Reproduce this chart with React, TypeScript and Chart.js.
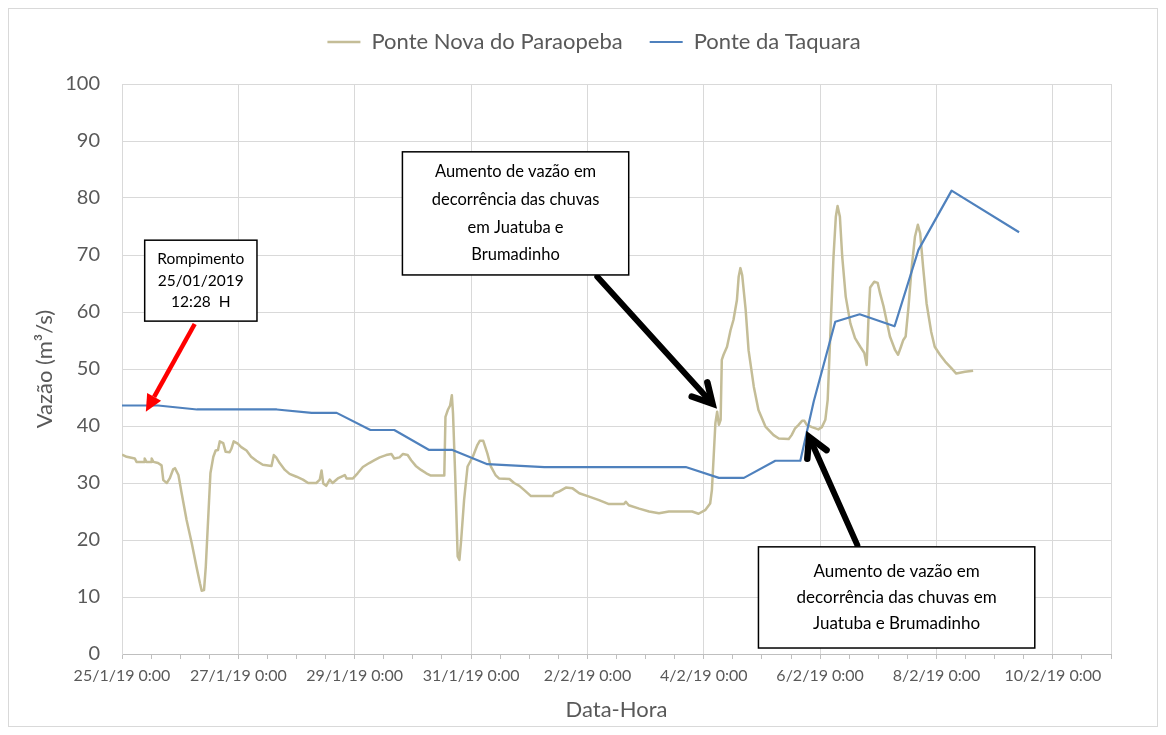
import { useEffect, useRef } from 'react';
import { Chart, registerables } from 'chart.js';

Chart.register(...registerables);

// ---- Data (x = days since 25/1/2019 0:00, y = vazão m³/s) ----
const seriesNames = ['Ponte Nova do Paraopeba', 'Ponte da Taquara'];
const seriesColors = ['#C4BD97', '#4F81BD'];

const pnpDays = [
  0.00, 0.08, 0.22, 0.25, 0.38, 0.39, 0.42, 0.50, 0.51, 0.54, 0.62, 0.68, 0.71, 0.77, 0.82, 0.88, 0.91, 0.97,
  1.02, 1.11, 1.20, 1.28, 1.34, 1.37, 1.41, 1.44, 1.48, 1.52, 1.57, 1.61, 1.65, 1.68, 1.74, 1.78, 1.85, 1.88,
  1.92, 1.99, 2.05, 2.14, 2.22, 2.31, 2.42, 2.57, 2.61, 2.65, 2.71, 2.80, 2.88, 3.00, 3.11, 3.20, 3.34, 3.40,
  3.43, 3.46, 3.51, 3.57, 3.62, 3.71, 3.83, 3.86, 3.97, 4.05, 4.14, 4.25, 4.34, 4.43, 4.54, 4.63, 4.68, 4.77,
  4.83, 4.91, 4.97, 5.05, 5.14, 5.23, 5.31, 5.54, 5.56, 5.60, 5.64, 5.67, 5.69, 5.73, 5.77, 5.80, 5.83, 5.88,
  5.94, 6.03, 6.11, 6.15, 6.21, 6.28, 6.34, 6.42, 6.48, 6.66, 6.74, 6.83, 6.91, 7.03, 7.40, 7.43, 7.51, 7.63,
  7.74, 7.86, 8.03, 8.20, 8.37, 8.63, 8.66, 8.71, 8.89, 9.06, 9.23, 9.40, 9.80, 9.91, 10.03, 10.11, 10.14,
  10.17, 10.20, 10.23, 10.26, 10.29, 10.31, 10.34, 10.40, 10.46, 10.51, 10.57, 10.60, 10.63, 10.66, 10.72,
  10.77, 10.86, 10.94, 11.06, 11.20, 11.29, 11.46, 11.51, 11.57, 11.63, 11.69, 11.73, 11.77, 11.86, 11.97,
  12.03, 12.09, 12.13, 12.16, 12.19, 12.23, 12.27, 12.30, 12.34, 12.38, 12.44, 12.52, 12.60, 12.69, 12.76,
  12.80, 12.83, 12.86, 12.93, 12.99, 13.03, 13.09, 13.14, 13.20, 13.29, 13.34, 13.39, 13.43, 13.47, 13.52,
  13.57, 13.63, 13.68, 13.72, 13.77, 13.83, 13.91, 13.97, 14.06, 14.15, 14.26, 14.34, 14.49, 14.63,
];
const pnpFlow = [
  35.0, 34.6, 34.3, 33.7, 33.7, 34.3, 33.7, 33.7, 34.3, 33.7, 33.5, 33.1, 30.5, 30.0, 30.8, 32.4, 32.6, 31.4,
  28.5, 23.5, 19.4, 15.3, 12.4, 11.1, 11.2, 15.3, 23.5, 31.7, 34.6, 35.7, 35.8, 37.3, 37.0, 35.5, 35.4, 36.0,
  37.3, 36.9, 36.3, 35.7, 34.6, 33.9, 33.2, 33.0, 34.9, 34.5, 33.5, 32.3, 31.6, 31.1, 30.6, 30.0, 30.0, 30.6,
  32.2, 29.9, 29.5, 30.6, 30.0, 30.8, 31.4, 30.8, 30.8, 31.7, 32.8, 33.5, 34.0, 34.5, 34.9, 35.1, 34.3, 34.5,
  35.1, 34.9, 34.0, 33.0, 32.3, 31.7, 31.3, 31.3, 41.6, 42.8, 43.6, 45.4, 42.2, 30.5, 17.1, 16.5, 20.0, 27.0,
  32.9, 34.6, 36.7, 37.4, 37.4, 35.2, 32.9, 31.4, 30.8, 30.7, 30.0, 29.5, 28.8, 27.7, 27.7, 28.2, 28.5, 29.2,
  29.1, 28.2, 27.6, 27.0, 26.3, 26.3, 26.7, 26.1, 25.5, 25.0, 24.7, 25.0, 25.0, 24.6, 25.3, 26.4, 28.8,
  34.6, 40.5, 42.5, 40.2, 41.1, 51.6, 52.5, 53.9, 56.8, 58.6, 62.1, 66.2, 67.7, 66.5, 60.4,
  53.3, 46.9, 42.8, 39.9, 38.4, 37.8, 37.7, 38.4, 39.6, 40.2, 40.9, 40.9, 40.2, 39.8, 39.4,
  39.8, 41.1, 44.6, 52.2, 59.8, 69.7, 76.7, 78.6, 76.7, 69.7, 62.7, 58.0, 55.4, 53.9, 52.8,
  50.7, 58.6, 64.3, 65.3, 65.1, 63.3, 61.0, 58.6, 55.7, 53.3, 52.5, 53.9, 55.1, 55.7, 61.0,
  67.4, 73.2, 75.3, 73.8, 67.9, 61.5, 56.5, 53.9, 52.5, 51.3, 50.1, 49.2, 49.5, 49.7,
];

const ptDays = [
  0.00, 0.62, 1.29, 2.66, 3.26, 3.69, 4.27, 4.68, 5.28, 5.68, 6.28, 7.26, 9.69, 10.26, 10.69, 11.23, 11.66,
  11.89, 12.26, 12.68, 13.28, 13.69, 14.26, 15.42,
];
const ptFlow = [
  43.6, 43.6, 42.9, 42.9, 42.3, 42.3, 39.3, 39.3, 35.8, 35.8, 33.3, 32.8, 32.8, 30.9, 30.9, 33.9, 33.9,
  44.3, 58.3, 59.6, 57.5, 70.9, 81.3, 74.0,
];

const xMinDays = 0;
const xMaxDays = 17;
const xLabelDays = [0, 2, 4, 6, 8, 10, 12, 14, 16];
const yTicks = [0, 10, 20, 30, 40, 50, 60, 70, 80, 90, 100];

// ---- Annotations (data coordinates) ----
const annotationBoxes = [
  { x0: 0.39, x1: 2.32, y0: 72.6, y1: 58.4, lines: ['Rompimento', '25/01/2019', '12:28  H'] },
  { x0: 4.82, x1: 8.71, y0: 88.1, y1: 66.5, lines: ['Aumento de vazão em', 'decorrência das chuvas', 'em Juatuba e', 'Brumadinho'] },
  { x0: 10.94, x1: 15.69, y0: 18.8, y1: 1.05, lines: ['Aumento de vazão em', 'decorrência das chuvas em', 'Juatuba e Brumadinho'] },
];
const boxStyles = [
  { font: 15.5, gap: 21.5 },
  { font: 16.5, gap: 27.7 },
  { font: 17, gap: 26 },
];
const annotationArrows = [
  { from: [1.25, 57.9], to: [0.41, 42.5] },
  { from: [8.17, 66.2], to: [10.15, 43.9] },
  { from: [12.64, 19.1], to: [11.81, 38.1] },
];
const arrowStyles = [
  { color: '#ff0000', width: 4.5, head: 'filled' },
  { color: '#000000', width: 6, head: 'open' },
  { color: '#000000', width: 6, head: 'open' },
];

const FONT = 'Lato, "Open Sans", sans-serif';

function dayLabel(v: number) {
  const d = new Date(2019, 0, 25 + v);
  return `${d.getDate()}/${d.getMonth() + 1}/19 0:00`;
}

const annotationPlugin = {
  id: 'annotationsDrawn',
  afterDraw(chart: any) {
    const { ctx } = chart;
    const xs = chart.scales.x;
    const ys = chart.scales.y;
    ctx.save();
    annotationArrows.forEach((a, i) => {
      const st = arrowStyles[i];
      const x1 = xs.getPixelForValue(a.from[0]);
      const y1 = ys.getPixelForValue(a.from[1]);
      const x2 = xs.getPixelForValue(a.to[0]);
      const y2 = ys.getPixelForValue(a.to[1]);
      const ang = Math.atan2(y2 - y1, x2 - x1);
      ctx.strokeStyle = st.color;
      ctx.fillStyle = st.color;
      if (st.head === 'filled') {
        const hl = 17, hw = 8;
        const bx = x2 - hl * Math.cos(ang);
        const by = y2 - hl * Math.sin(ang);
        ctx.lineWidth = st.width;
        ctx.lineCap = 'butt';
        ctx.beginPath();
        ctx.moveTo(x1, y1);
        ctx.lineTo(bx, by);
        ctx.stroke();
        ctx.beginPath();
        ctx.moveTo(x2, y2);
        ctx.lineTo(bx + hw * Math.sin(ang), by - hw * Math.cos(ang));
        ctx.lineTo(bx - hw * Math.sin(ang), by + hw * Math.cos(ang));
        ctx.closePath();
        ctx.fill();
      } else {
        ctx.lineWidth = st.width;
        ctx.lineCap = 'round';
        ctx.beginPath();
        ctx.moveTo(x1, y1);
        ctx.lineTo(x2 - 3 * Math.cos(ang), y2 - 3 * Math.sin(ang));
        ctx.stroke();
        const wl = 22, wa = 0.5;
        ctx.lineWidth = 6.5;
        ctx.lineJoin = 'miter';
        ctx.beginPath();
        ctx.moveTo(x2 - wl * Math.cos(ang - wa), y2 - wl * Math.sin(ang - wa));
        ctx.lineTo(x2, y2);
        ctx.lineTo(x2 - wl * Math.cos(ang + wa), y2 - wl * Math.sin(ang + wa));
        ctx.stroke();
      }
    });
    annotationBoxes.forEach((b, i) => {
      const st = boxStyles[i];
      const l = xs.getPixelForValue(b.x0);
      const r = xs.getPixelForValue(b.x1);
      const t = ys.getPixelForValue(b.y0);
      const bt = ys.getPixelForValue(b.y1);
      ctx.fillStyle = '#ffffff';
      ctx.fillRect(l, t, r - l, bt - t);
      ctx.strokeStyle = '#000000';
      ctx.lineWidth = 1.5;
      ctx.strokeRect(l, t, r - l, bt - t);
      ctx.fillStyle = '#000000';
      ctx.font = `${st.font}px ${FONT}`;
      ctx.textAlign = 'center';
      ctx.textBaseline = 'middle';
      const cx = (l + r) / 2;
      const cy = (t + bt) / 2;
      const n = b.lines.length;
      b.lines.forEach((ln, k) => {
        ctx.fillText(ln, cx, cy + (k - (n - 1) / 2) * st.gap);
      });
    });
    ctx.restore();
  },
};

// Legend box: fixed height, items nudged to match the reference placement
const LEGEND_HEIGHT = 75;
const LEGEND_SHIFT_X = 34;
const LEGEND_SHIFT_Y = -5;
const legendSpacing = {
  id: 'legendSpacing',
  beforeInit(chart: any) {
    const lg = chart.legend;
    if (!lg) return;
    const origFit = lg.fit;
    lg.fit = function () {
      origFit.call(this);
      this.height = LEGEND_HEIGHT;
    };
    const origDraw = lg.draw;
    lg.draw = function () {
      const { top, bottom, left, right } = this;
      this.top = top + LEGEND_SHIFT_Y;
      this.bottom = bottom + LEGEND_SHIFT_Y;
      this.left = left + LEGEND_SHIFT_X;
      this.right = right + LEGEND_SHIFT_X;
      origDraw.call(this);
      this.top = top;
      this.bottom = bottom;
      this.left = left;
      this.right = right;
    };
  },
};

export default function App() {
  const ref = useRef<HTMLCanvasElement>(null);
  useEffect(() => {
    if (!ref.current) return;
    const chart = new Chart(ref.current, {
      type: 'line',
      data: {
        datasets: [
          {
            label: seriesNames[0],
            data: pnpDays.map((d, i) => ({ x: d, y: pnpFlow[i] })),
            borderColor: seriesColors[0],
            backgroundColor: seriesColors[0],
            borderWidth: 2.5,
            pointRadius: 0,
            pointStyle: 'line',
            borderJoinStyle: 'round',
            tension: 0,
            order: 1,
          },
          {
            label: seriesNames[1],
            data: ptDays.map((d, i) => ({ x: d, y: ptFlow[i] })),
            borderColor: seriesColors[1],
            backgroundColor: seriesColors[1],
            borderWidth: 2.2,
            pointRadius: 0,
            pointStyle: 'line',
            borderJoinStyle: 'round',
            tension: 0,
            order: 0,
          },
        ],
      },
      options: {
        animation: false,
        responsive: true,
        maintainAspectRatio: false,
        events: [],
        layout: { padding: { top: 0, right: 46, bottom: 0, left: 0 } },
        plugins: {
          tooltip: { enabled: false },
          legend: {
            position: 'top',
            labels: {
              usePointStyle: true,
              pointStyle: 'line',
              pointStyleWidth: 33,
              color: '#595959',
              font: { family: FONT, size: 22 },
              padding: 27,
              sort: (a: any, b: any) => a.datasetIndex - b.datasetIndex,
            },
          },
        },
        scales: {
          x: {
            type: 'linear',
            min: xMinDays,
            max: xMaxDays,
            afterFit: (s: any) => { s.height = 72; },
            ticks: {
              stepSize: 0.5,
              autoSkip: false,
              maxRotation: 0,
              minRotation: 0,
              padding: 7,
              color: '#595959',
              font: { family: FONT, size: 16 },
              callback: (v: any) => (xLabelDays.includes(Number(v)) ? dayLabel(Number(v)) : ''),
            },
            grid: {
              color: (c: any) => (c.tick && (xLabelDays.includes(c.tick.value) || c.tick.value === xMaxDays) ? '#d9d9d9' : 'rgba(0,0,0,0)'),
              tickColor: '#bfbfbf',
              tickLength: 5,
            },
            border: { color: '#bfbfbf', width: 1 },
            title: {
              display: true,
              text: 'Data-Hora',
              color: '#595959',
              font: { family: FONT, size: 22 },
              padding: { top: 0, bottom: 3 },
            },
          },
          y: {
            min: yTicks[0],
            max: yTicks[yTicks.length - 1],
            afterFit: (s: any) => { s.width = 113; },
            afterBuildTicks: (s: any) => { s.ticks = yTicks.map((v) => ({ value: v })); },
            ticks: {
              stepSize: 10,
              padding: 22,
              color: '#595959',
              font: { family: FONT, size: 20 },
            },
            grid: { color: '#d9d9d9', drawTicks: false },
            border: { color: '#d9d9d9' },
            title: {
              display: true,
              text: 'Vazão (m³/s)',
              color: '#595959',
              font: { family: FONT, size: 22 },
              padding: { top: 23, bottom: 0 },
            },
          },
        },
      },
      plugins: [legendSpacing, annotationPlugin],
    } as any);
    return () => chart.destroy();
  }, []);
  return (
    <div style={{ width: 1150, height: 719, border: '1px solid #d9d9d9', boxSizing: 'border-box', position: 'relative', background: '#fff' }}>
      <canvas ref={ref} />
    </div>
  );
}
